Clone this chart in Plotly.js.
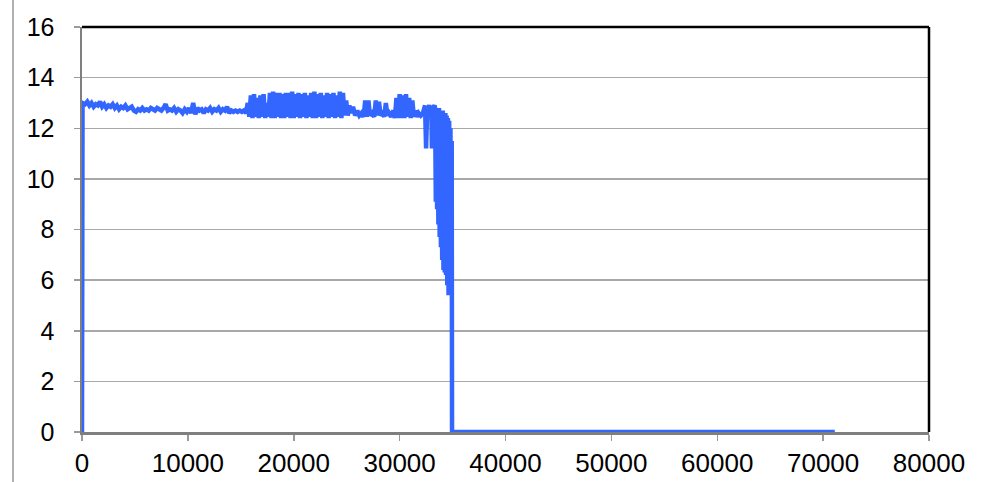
<!DOCTYPE html>
<html>
<head>
<meta charset="utf-8">
<script src="https://cdn.plot.ly/plotly-3.0.1.min.js"></script>
<style>
  html, body { margin: 0; padding: 0; background: #fff; }
  #chart { width: 984px; height: 482px; position: relative; }
  #edge { position: absolute; left: 12px; top: 0; width: 1.5px; height: 482px; background: #b0b0b0; z-index: 5; }
</style>
</head>
<body>
<div id="chart"></div>
<div id="edge"></div>
<script>
// Segment: start and slowly drifting level
const timeA = [0, 50, 300, 500, 700, 900, 1100, 1300, 1500, 1700, 1900, 2100, 2300, 2500, 2700, 2900, 3100, 3300, 3500, 3700, 3900, 4100, 4300, 4500, 4700, 4900, 5100, 5300, 5500, 5700, 5900, 6100, 6300, 6500, 6700, 6900, 7100, 7300, 7500, 7700, 7900, 8100, 8300, 8500, 8700, 8900, 9100, 9300, 9500, 9700, 9900, 10100, 10300, 10500, 10700, 10900, 11100, 11300, 11500, 11700, 11900, 12100, 12300, 12500, 12700, 12900, 13100, 13300, 13500, 13700, 13900, 14100, 14300, 14500, 14700, 14900, 15100, 15300];
const valueA = [0, 13.0, 12.95, 13.05, 12.9, 13.0, 12.85, 12.95, 12.9, 13.05, 12.85, 12.95, 12.8, 12.9, 12.85, 12.95, 12.8, 12.9, 12.75, 12.85, 12.8, 12.9, 12.75, 12.8, 12.85, 12.7, 12.65, 12.75, 12.7, 12.8, 12.7, 12.75, 12.7, 12.8, 12.75, 12.7, 12.8, 12.75, 12.7, 12.8, 12.95, 12.7, 12.75, 12.7, 12.8, 12.65, 12.75, 12.7, 12.6, 12.75, 12.65, 12.8, 12.6, 13.0, 12.55, 12.8, 12.7, 12.75, 12.6, 12.75, 12.7, 12.8, 12.65, 12.75, 12.7, 12.8, 12.65, 12.75, 12.7, 12.85, 12.6, 12.7, 12.65, 12.7, 12.65, 12.7, 12.65, 12.7];

// Segment: wide oscillating band
const timeB = [15500, 15650, 15800, 15950, 16100, 16250, 16400, 16550, 16700, 16850, 17000, 17150, 17300, 17450, 17600, 17750, 17900, 18050, 18200, 18350, 18500, 18650, 18800, 18950, 19100, 19250, 19400, 19550, 19700, 19850, 20000, 20150, 20300, 20450, 20600, 20750, 20900, 21050, 21200, 21350, 21500, 21650, 21800, 21950, 22100, 22250, 22400, 22550, 22700, 22850, 23000, 23150, 23300, 23450, 23600, 23750, 23900, 24050, 24200, 24350, 24500, 24650, 24800, 24950, 25100, 25250];
const valueB = [12.6, 13.0, 12.45, 13.3, 12.4, 13.35, 12.45, 13.2, 12.4, 13.3, 12.45, 13.35, 12.4, 13.0, 12.45, 13.4, 12.4, 13.45, 12.4, 13.4, 12.45, 13.4, 12.4, 13.35, 12.4, 13.4, 12.45, 13.4, 12.4, 13.45, 12.4, 13.35, 12.45, 13.4, 12.4, 13.35, 12.45, 13.4, 12.4, 13.3, 12.45, 13.4, 12.4, 13.45, 12.4, 13.35, 12.45, 13.4, 12.4, 13.3, 12.45, 13.4, 12.4, 13.35, 12.45, 13.4, 12.4, 13.3, 12.45, 13.45, 12.4, 13.4, 12.5, 13.1, 12.5, 12.9];

// Segment: lower level with spikes
const timeC = [25400, 25600, 25800, 26000, 26200, 26400, 26600, 26750, 26900, 27050, 27200, 27400, 27600, 27750, 27900, 28050, 28200, 28400, 28550, 28700, 28850, 29000, 29200, 29400, 29550, 29700, 29850, 30000, 30150, 30300, 30450, 30600, 30750, 30900, 31050, 31200, 31350, 31500, 31650, 31800, 32000, 32200, 32400, 32500, 32600, 32800, 33000, 33050, 33150, 33300];
const valueC = [12.6, 12.85, 12.5, 12.7, 12.5, 12.6, 12.45, 13.1, 12.45, 13.1, 12.5, 12.6, 12.45, 13.1, 12.5, 13.05, 12.5, 12.6, 12.45, 13.0, 12.5, 12.6, 12.45, 12.7, 12.4, 13.2, 12.4, 13.35, 12.4, 13.3, 12.4, 13.35, 12.45, 13.2, 12.4, 13.1, 12.45, 12.7, 12.45, 12.6, 12.5, 12.6, 12.9, 11.2, 12.7, 12.9, 12.6, 11.2, 12.8, 12.9];

// Segment: collapse and zero tail
const timeD = [33350, 33420, 33480, 33540, 33600, 33660, 33720, 33780, 33840, 33900, 33960, 34020, 34080, 34140, 34200, 34260, 34320, 34380, 34440, 34500, 34560, 34620, 34680, 34740, 34800, 34860, 34920, 34950, 71100];
const valueD = [12.8, 9.1, 12.8, 8.8, 12.7, 8.2, 12.8, 7.7, 12.7, 7.3, 12.7, 6.8, 12.7, 6.4, 12.6, 6.3, 12.6, 6.2, 12.5, 5.8, 12.4, 5.4, 12.3, 5.6, 12.0, 7.0, 11.5, 0, 0];

const xTicks = [0, 10000, 20000, 30000, 40000, 50000, 60000, 70000, 80000];
const yTicks = [0, 2, 4, 6, 8, 10, 12, 14, 16];

const time = timeA.concat(timeB, timeC, timeD);
const value = valueA.concat(valueB, valueC, valueD);

const trace = {
  x: time, y: value, type: 'scatter', mode: 'lines',
  line: { color: '#3366ff', width: 4.5 },
  hoverinfo: 'skip'
};

const layout = {
  width: 984, height: 482,
  margin: { l: 82, r: 55, t: 27, b: 50 },
  paper_bgcolor: '#ffffff', plot_bgcolor: '#ffffff',
  showlegend: false,
  font: { family: 'Liberation Sans, Arial, sans-serif', color: '#000' },
  xaxis: {
    range: [0, 80000], tickvals: xTicks, ticktext: xTicks.map(String),
    showgrid: false, zeroline: false,
    showline: true, linecolor: '#7f7f7f', linewidth: 3,
    ticks: 'outside', ticklen: 6, tickwidth: 1.5, tickcolor: '#9a9a9a',
    tickfont: { size: 26, color: '#000' },
    layer: 'below traces'
  },
  yaxis: {
    range: [0, 16], tickvals: yTicks, ticktext: yTicks.map(String),
    showgrid: true, gridcolor: '#a8a8a8', gridwidth: 1.5,
    zeroline: false,
    showline: true, linecolor: '#7f7f7f', linewidth: 2.5,
    ticks: 'outside', ticklen: 6, tickwidth: 1.5, tickcolor: '#9a9a9a',
    tickfont: { size: 25, color: '#000' },
    ticklabelstandoff: 14,
    layer: 'below traces'
  },
  shapes: [
    { type: 'line', xref: 'paper', yref: 'paper', x0: 0, x1: 1, y0: 1, y1: 1,
      line: { color: '#000', width: 2.5 } },
    { type: 'line', xref: 'paper', yref: 'paper', x0: 1, x1: 1, y0: 0, y1: 1,
      line: { color: '#000', width: 2.5 } }
  ]
};

Plotly.newPlot('chart', [trace], layout, { displayModeBar: false, staticPlot: true });
</script>
</body>
</html>
